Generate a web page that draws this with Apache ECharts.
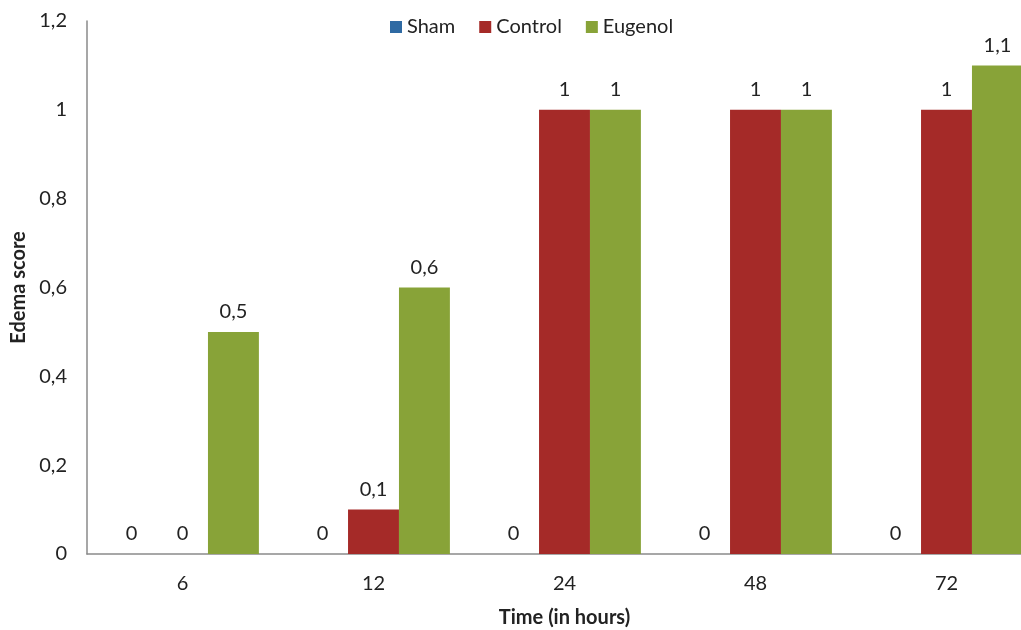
<!DOCTYPE html>
<html><head><meta charset="utf-8">
<script src="https://cdn.jsdelivr.net/npm/echarts@6/dist/echarts.min.js"></script>
<style>html,body{margin:0;padding:0;background:#fff}#c{width:1021px;height:630px}</style>
</head><body><div id="c"></div>
<script>
const categories = ['6', '12', '24', '48', '72'];
const sham = [0, 0, 0, 0, 0];
const control = [0, 0.1, 1, 1, 1];
const eugenol = [0.5, 0.6, 1, 1, 1.1];
const yTicks = [0, 0.2, 0.4, 0.6, 0.8, 1, 1.2];

const fmt = v => String(Math.round(v * 10) / 10).replace('.', ',');
const FONT = 'Lato, "Open Sans", sans-serif';
const FS = 20;
const lbl = {show: true, position: 'top', distance: 10, fontSize: FS, color: '#222', fontFamily: FONT,
  formatter: p => fmt(p.value)};

const chart = echarts.init(document.getElementById('c'), null, {renderer: 'canvas'});
chart.setOption({
  animation: false,
  textStyle: {fontFamily: FONT},
  legend: {
    data: ['Sham', 'Control', 'Eugenol'],
    left: 385, top: 12, itemWidth: 12, itemHeight: 12, itemGap: 24,
    icon: 'rect',
    textStyle: {fontSize: FS, color: '#222', fontFamily: FONT, padding: [0, 0, 0, 0]}
  },
  grid: {left: 87, right: -21, top: 21, bottom: 76, containLabel: false, outerBoundsMode: 'none'},
  xAxis: {
    type: 'category', data: categories,
    name: 'Time (in hours)', nameLocation: 'middle', nameGap: 54,
    nameTextStyle: {fontSize: FS, fontWeight: 'bold', color: '#222', fontFamily: FONT},
    axisLine: {lineStyle: {color: '#8a8a8a', width: 1.5}},
    axisTick: {show: false},
    axisLabel: {fontSize: FS, color: '#222', margin: 20, fontFamily: FONT}
  },
  yAxis: {
    type: 'value', min: 0, max: 1.2, interval: 0.2,
    name: 'Edema score', nameLocation: 'middle', nameGap: 57, nameRotate: 90,
    nameTextStyle: {fontSize: FS, fontWeight: 'bold', color: '#222', fontFamily: FONT},
    axisLine: {show: true, lineStyle: {color: '#8a8a8a', width: 1.5}},
    axisTick: {show: false},
    splitLine: {show: false},
    axisLabel: {fontSize: FS, color: '#222', margin: 20, fontFamily: FONT,
      formatter: v => fmt(v)}
  },
  series: [
    {name: 'Sham', type: 'bar', data: sham, barGap: '0%', barCategoryGap: '20%',
     itemStyle: {color: '#2F6AA3'}, label: lbl},
    {name: 'Control', type: 'bar', data: control, barGap: '0%', barCategoryGap: '20%',
     itemStyle: {color: '#A52A28'}, label: lbl},
    {name: 'Eugenol', type: 'bar', data: eugenol, barGap: '0%', barCategoryGap: '20%',
     itemStyle: {color: '#88A338'}, label: lbl}
  ]
});
</script></body></html>
